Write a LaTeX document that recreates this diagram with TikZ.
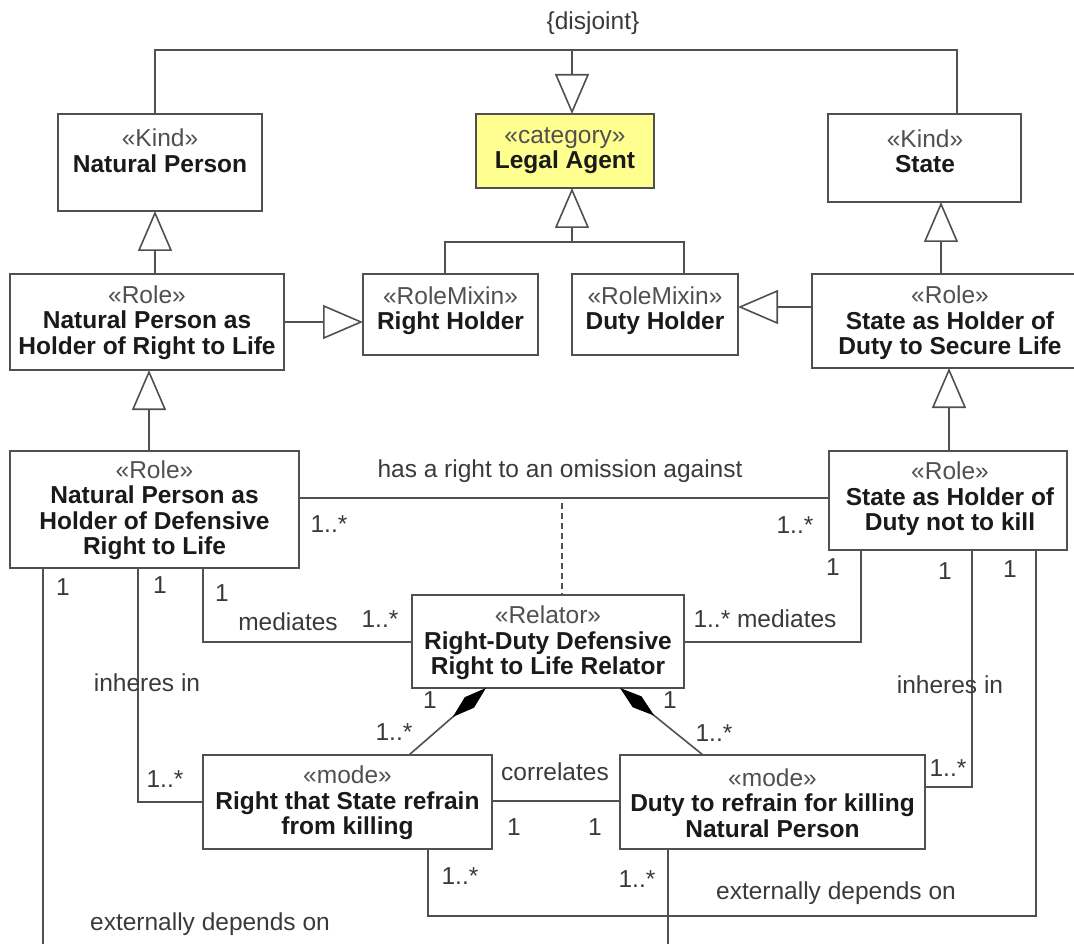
\documentclass[tikz,border=0pt]{standalone}
\usepackage{fontspec}
\setmainfont{Liberation Sans}
\usetikzlibrary{arrows.meta}
\definecolor{linec}{HTML}{505050}
\definecolor{stc}{HTML}{505050}
\definecolor{nmc}{HTML}{1A1A1A}
\definecolor{labc}{HTML}{3A3A3A}
\definecolor{yel}{HTML}{FFFF8F}
\newcommand\stereo[1]{{\color{stc}#1}}
\newcommand\nm[1]{{\bfseries\color{nmc}#1}}
\begin{document}
\begin{tikzpicture}[x=1pt,y=-1pt,
 box/.style={draw=linec, line width=1.8pt, fill=white, inner sep=0pt, outer sep=0pt, anchor=north west, rectangle},
 txt/.style={align=center, font=\fontsize{24.5}{25.5}\selectfont, inner sep=0pt},
 lab/.style={font=\fontsize{24.5}{25}\selectfont, text=labc, inner sep=0pt},
 conn/.style={draw=linec, line width=1.6pt},
 gen/.style={conn, -{Triangle[open, fill=white, length=40pt, width=34pt]}},
 comp/.style={conn, {Diamond[length=44pt, width=14pt, black]}-},
 dep/.style={conn, dash pattern=on 6pt off 4pt}]
\useasboundingbox (0,0) rectangle (1074,944);

% boxes
\node[box, minimum width=204pt, minimum height=97pt] (np) at (58,114) {};
\node[box, fill=yel, minimum width=178pt, minimum height=74pt] (la) at (476,114) {};
\node[box, minimum width=193pt, minimum height=88pt] (st) at (828,114) {};
\node[box, minimum width=274pt, minimum height=96pt] (nphrl) at (10,274) {};
\node[box, minimum width=175pt, minimum height=81pt] (rh) at (363,274) {};
\node[box, minimum width=166pt, minimum height=81pt] (dh) at (572,274) {};
\node[box, minimum width=278pt, minimum height=94pt] (shdsl) at (812,274) {};
\node[box, minimum width=289pt, minimum height=117pt] (npd) at (10,451) {};
\node[box, minimum width=238pt, minimum height=99pt] (snk) at (829,451) {};
\node[box, minimum width=272pt, minimum height=93pt] (rel) at (412,595) {};
\node[box, minimum width=289pt, minimum height=94pt] (m1) at (203,755) {};
\node[box, minimum width=305pt, minimum height=94pt] (m2) at (620,755) {};

% box texts
\node[txt] (npT) at (160,150.5) {\stereo{«Kind»}\\\nm{Natural Person}};
\node[txt] (laT) at (565,150.5) {\stereo{«category»}\\\nm{Legal Agent}};
\node[txt] (stT) at (925,151) {\stereo{«Kind»}\\\nm{State}};
\node[txt] (nphrlT) at (147,322.5) {\stereo{«Role»}\\\nm{Natural Person as}\\\nm{Holder of Right to Life}};
\node[txt] (rhT) at (450.5,310.5) {\stereo{«RoleMixin»}\\\nm{Right Holder}};
\node[txt] (dhT) at (655,310.5) {\stereo{«RoleMixin»}\\\nm{Duty Holder}};
\node[txt] (shdslT) at (950,323) {\stereo{«Role»}\\\nm{State as Holder of}\\\nm{Duty to Secure Life}};
\node[txt] (npdT) at (154.5,510) {\stereo{«Role»}\\\nm{Natural Person as}\\\nm{Holder of Defensive}\\\nm{Right to Life}};
\node[txt] (snkT) at (950,499) {\stereo{«Role»}\\\nm{State as Holder of}\\\nm{Duty not to kill}};
\node[txt] (relT) at (548,643) {\stereo{«Relator»}\\\nm{Right-Duty Defensive}\\\nm{Right to Life Relator}};
\node[txt] (m1T) at (347.5,803) {\stereo{«mode»}\\\nm{Right that State refrain}\\\nm{from killing}};
\node[txt] (m2T) at (772.5,803) {\stereo{«mode»}\\\nm{Duty to refrain for killing}\\\nm{Natural Person}};

% helper coordinates
\coordinate (gs) at (572,50);
\coordinate (c155) at (155,0);
\coordinate (c957) at (957,0);
\coordinate (lb) at (572,242);
\coordinate (c445) at (445,0);
\coordinate (c684) at (684,0);
\coordinate (c941) at (941,0);
\coordinate (c322) at (0,322);
\coordinate (c307) at (0,307);
\coordinate (c149) at (149,0);
\coordinate (c949) at (949,0);
\coordinate (c498) at (0,498);
\coordinate (dtop) at (562,503);
\coordinate (c203) at (203,0);
\coordinate (c642) at (0,642);
\coordinate (c861) at (861,0);
\coordinate (c138) at (138,0);
\coordinate (c802) at (0,802);
\coordinate (c972) at (972,0);
\coordinate (c787) at (0,787);
\coordinate (c486) at (486,0);
\coordinate (c409) at (409,0);
\coordinate (c620) at (620,0);
\coordinate (c703) at (703,0);
\coordinate (c801) at (0,801);
\coordinate (eL) at (43,950);
\coordinate (eR) at (668,950);
\coordinate (c428) at (428,0);
\coordinate (e2) at (1036,916);

% generalizations
\draw[conn] (np.north -| c155) |- (gs) -| (st.north -| c957);
\draw[gen] (gs) -- (la.north -| gs);
\draw[conn] (rh.north -| c445) |- (lb) -| (dh.north -| c684);
\draw[gen] (lb) -- (la.south -| lb);
\draw[gen] (nphrl.north -| c155) -- (np.south -| c155);
\draw[gen] (shdsl.north -| c941) -- (st.south -| c941);
\draw[gen] (nphrl.east |- c322) -- (rh.west |- c322);
\draw[gen] (shdsl.west |- c307) -- (dh.east |- c307);
\draw[gen] (npd.north -| c149) -- (nphrl.south -| c149);
\draw[gen] (snk.north -| c949) -- (shdsl.south -| c949);

% associations
\draw[conn] (npd.east |- c498) -- (snk.west |- c498);
\draw[dep] (dtop) -- (rel.north -| dtop);
\draw[conn] (npd.south -| c203) |- (rel.west |- c642);
\draw[conn] (rel.east |- c642) -| (snk.south -| c861);
\draw[conn] (npd.south -| c138) |- (m1.west |- c802);
\draw[conn] (snk.south -| c972) |- (m2.east |- c787);
\draw[comp] (rel.south -| c486) -- (m1.north -| c409);
\draw[comp] (rel.south -| c620) -- (m2.north -| c703);
\draw[conn] (m1.east |- c801) -- (m2.west |- c801);
\draw[conn] (npd.south -| eL) -- (eL);
\draw[conn] (m2.south -| eR) -- (eR);
\draw[conn] (m1.south -| c428) |- (e2) -- (snk.south -| e2);

% labels
\node[lab] (disj) at (593,23) {\{disjoint\}};
\node[lab] (lOm) at (560,471) {has a right to an omission against};
\node[lab] (lOmA) at (329,524) {1..*};
\node[lab] (lOmB) at (795,525) {1..*};
\node[lab] (lE1) at (63,587) {1};
\node[lab] (lI1) at (160,585) {1};
\node[lab] (lM1) at (222,593) {1};
\node[lab] (lMed) at (288,622) {mediates};
\node[lab] (lMedA) at (380,619) {1..*};
\node[lab] (lMedB) at (765,619) {1..* mediates};
\node[lab] (lM2) at (833,567) {1};
\node[lab] (lI2) at (945,571) {1};
\node[lab] (lE2) at (1010,569) {1};
\node[lab] (lInhL) at (147,683) {inheres in};
\node[lab] (lInhR) at (950,685) {inheres in};
\node[lab] (lInhLm) at (165,779) {1..*};
\node[lab] (lInhRm) at (948,768) {1..*};
\node[lab] (lC1a) at (430,700) {1};
\node[lab] (lC1b) at (394,732) {1..*};
\node[lab] (lC2a) at (670,700) {1};
\node[lab] (lC2b) at (714,733) {1..*};
\node[lab] (lCor) at (555,772) {correlates};
\node[lab] (lCorA) at (514,827) {1};
\node[lab] (lCorB) at (595,827) {1};
\node[lab] (lExA) at (460,876) {1..*};
\node[lab] (lExB) at (637,879) {1..*};
\node[lab] (lExR) at (836,893) {externally depends on};
\node[lab] (lExL) at (210,924) {externally depends on};
\end{tikzpicture}
\end{document}
